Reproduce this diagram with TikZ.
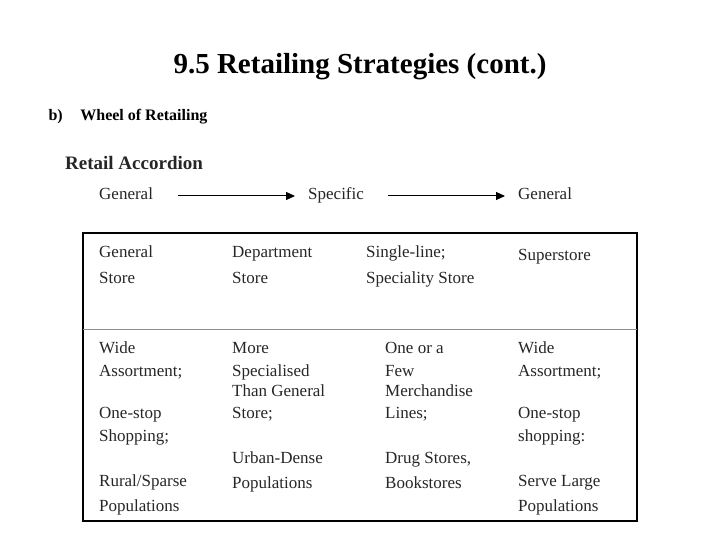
\documentclass[tikz,border=0pt]{standalone}
\usepackage{fontspec}
\setmainfont{Liberation Serif}
\usetikzlibrary{arrows.meta}
\begin{document}
\begin{tikzpicture}[x=1pt,y=-1pt,
  t/.style={anchor=base west,inner sep=0,font=\fontsize{17}{17}\selectfont,text=black!85},
  arr/.style={-{Triangle[length=9pt,width=8pt]},line width=1pt}]
\useasboundingbox (0,0) rectangle (720,540);
\node[font=\bfseries\fontsize{29}{29}\selectfont] (title) at (360,67) {9.5 Retailing Strategies (cont.)};
\node[anchor=west,font=\bfseries\fontsize{16}{16}\selectfont] (b) at (45,117) {b)\hspace{1.1em}Wheel of Retailing};
\node[anchor=base west,inner sep=0,font=\bfseries\fontsize{19}{19}\selectfont,text=black!85] (ra) at (65,170) {Retail Accordion};
\node[t] (g1) at (99,200) {General};
\node[t] (sp) at (308,200) {Specific};
\node[t] (g2) at (518,200) {General};
\coordinate (a1) at (178,196); \coordinate (a2) at (295,196);
\coordinate (a3) at (388,196); \coordinate (a4) at (505,196);
\draw[arr] (a1) -- (a2);
\draw[arr] (a3) -- (a4);
\draw[line width=1.3pt] (83,233) rectangle (637,521);
\draw[black!45,line width=0.8pt] (83,329) -- (637,329);
\foreach \x/\y/\s in {99/258/General,99/283/Store,232/258/Department,232/283/Store,
  366/258/{Single-line;},366/283/{Speciality Store},518/260/Superstore,
  99/353/Wide,99/376/{Assortment;},99/418/One-stop,99/441/{Shopping;},99/486/{Rural{/}Sparse},99/511/Populations,
  232/353/More,232/376/Specialised,232/396/{Than General},232/418/{Store;},232/463/Urban-Dense,232/488/Populations,
  385/353/{One or a},385/376/Few,385/396/Merchandise,385/418/{Lines;},385/463/{Drug Stores,},385/488/Bookstores,
  518/353/Wide,518/376/{Assortment;},518/418/One-stop,518/441/{shopping:},518/486/{Serve Large},518/511/Populations}
  \node[t] at (\x,\y) {\s};
\end{tikzpicture}
\end{document}
